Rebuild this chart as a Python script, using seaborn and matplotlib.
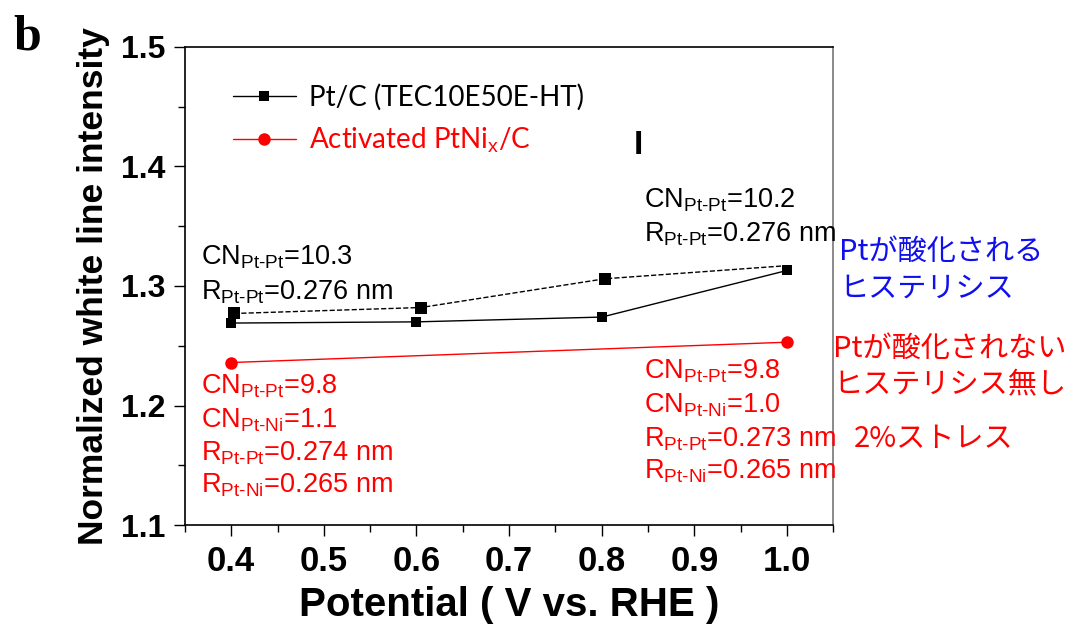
import matplotlib
matplotlib.use('Agg')
import matplotlib.pyplot as plt
import seaborn as sns

# data
potential = [0.4, 0.6, 0.8, 1.0]
ptc_intensity = [1.269, 1.270, 1.274, 1.313]
ptc_back_potential = [0.403, 0.605, 0.803, 1.0]
ptc_back_intensity = [1.277, 1.282, 1.306, 1.317]
ptni_potential = [0.4, 1.0]
ptni_intensity = [1.236, 1.253]

x_ticks = [0.4, 0.5, 0.6, 0.7, 0.8, 0.9, 1.0]
y_ticks = [1.1, 1.2, 1.3, 1.4, 1.5]

sns.set_theme(style='ticks')
plt.rcParams['font.family'] = ['Liberation Sans', 'DejaVu Sans']
plt.rcParams['mathtext.fontset'] = 'custom'
plt.rcParams['mathtext.rm'] = 'Liberation Sans'
plt.rcParams['mathtext.it'] = 'Liberation Sans:italic'
plt.rcParams['mathtext.bf'] = 'Liberation Sans:bold'
for k in ['text.color', 'axes.labelcolor', 'xtick.color', 'ytick.color']:
    plt.rcParams[k] = 'black'

fig = plt.figure(figsize=(10.81, 6.32), dpi=100)
ax = fig.add_axes([0.171, 0.169, 0.600, 0.757])

sns.lineplot(x=potential, y=ptc_intensity, ax=ax, color='black', lw=1,
             marker='s', markersize=7, markeredgewidth=0,
             label='Pt/C (TEC10E50E-HT)')
sns.lineplot(x=ptc_back_potential, y=ptc_back_intensity, ax=ax, color='black',
             lw=1, linestyle='--', marker='s', markersize=9, markeredgewidth=0,
             markevery=[0, 1, 2], label='_nolegend_')
sns.lineplot(x=ptni_potential, y=ptni_intensity, ax=ax, color='red', lw=1,
             marker='o', markersize=9, markeredgewidth=0,
             label='Activated PtNi$_{\\mathrm{x}}$/C')

ax.set_xlim(0.35, 1.05)
ax.set_ylim(1.1, 1.5)
ax.set_xticks(x_ticks)
ax.set_xticks([0.35, 0.45, 0.55, 0.65, 0.75, 0.85, 0.95, 1.05], minor=True)
ax.set_yticks(y_ticks)
ax.set_yticks([1.15, 1.25, 1.35, 1.45], minor=True)
ax.set_xticklabels([f'{v:.1f}' for v in x_ticks], fontweight='bold',
                   fontsize=25)
ax.set_yticklabels([f'{v:.1f}' for v in y_ticks], fontweight='bold', fontsize=23)
ax.tick_params(axis='both', which='major', direction='out', length=8,
               width=1, color='black', pad=6)
ax.tick_params(axis='both', which='minor', direction='out', length=5,
               width=1, color='black')
for s in ['left', 'bottom', 'top']:
    ax.spines[s].set_color('black')
    ax.spines[s].set_linewidth(1.2)
ax.spines['right'].set_color('#777777')
ax.spines['right'].set_linewidth(1.2)

ax.set_xlabel('Potential ( V vs. RHE )', fontsize=29, fontweight='bold',
              labelpad=6)
ax.set_ylabel('Normalized white line intensity', fontsize=25.5,
              fontweight='bold', labelpad=8)

leg = ax.legend(loc='upper left', bbox_to_anchor=(0.035, 0.975), frameon=False,
                handlelength=2.3, handletextpad=0.45,
                labelspacing=0.55, labelcolor='linecolor',
                prop={'family': ['Lato', 'DejaVu Sans'], 'size': 20})

# annotations
black_note = {'fontsize': 19.5, 'color': 'black'}
red_note = {'fontsize': 19.5, 'color': 'red'}
ax.text(0.367, 1.318, 'CN$_{\\mathrm{Pt\\text{-}Pt}}$=10.3', **black_note)
ax.text(0.367, 1.289, 'R$_{\\mathrm{Pt\\text{-}Pt}}$=0.276 nm', **black_note)
ax.text(0.8457, 1.366, 'CN$_{\\mathrm{Pt\\text{-}Pt}}$=10.2', **black_note)
ax.text(0.8457, 1.337, 'R$_{\\mathrm{Pt\\text{-}Pt}}$=0.276 nm', **black_note)

red_left = ['CN$_{\\mathrm{Pt\\text{-}Pt}}$=9.8', 'CN$_{\\mathrm{Pt\\text{-}Ni}}$=1.1',
            'R$_{\\mathrm{Pt\\text{-}Pt}}$=0.274 nm', 'R$_{\\mathrm{Pt\\text{-}Ni}}$=0.265 nm']
red_right = ['CN$_{\\mathrm{Pt\\text{-}Pt}}$=9.8', 'CN$_{\\mathrm{Pt\\text{-}Ni}}$=1.0',
             'R$_{\\mathrm{Pt\\text{-}Pt}}$=0.273 nm', 'R$_{\\mathrm{Pt\\text{-}Ni}}$=0.265 nm']
for txt, yy in zip(red_left, [1.210, 1.1815, 1.154, 1.127]):
    ax.text(0.367, yy, txt, **red_note)
for txt, yy in zip(red_right, [1.223, 1.194, 1.166, 1.139]):
    ax.text(0.8457, yy, txt, **red_note)

jp = {'fontsize': 21, 'family': ['Noto Sans CJK JP', 'DejaVu Sans']}
ax.text(1.0565, 1.322, 'Ptが酸化される', color='#1010ee', **jp)
ax.text(1.0565, 1.291, 'ヒステリシス', color='#1010ee', **jp)
ax.text(1.050, 1.241, 'Ptが酸化されない', color='red', **jp)
ax.text(1.050, 1.210, 'ヒステリシス無し', color='red', **jp)
ax.text(1.0725, 1.165, '2%ストレス', color='red', **jp)

# stray bar mark in the original
ax.text(0.840, 1.4105, 'I', fontsize=24, fontweight='bold', ha='center',
        color='black')

fig.text(0.012, 0.922, 'b', fontsize=36, fontweight='bold',
         family=['Liberation Serif', 'DejaVu Serif'])

fig.savefig('out.png', dpi=100)
